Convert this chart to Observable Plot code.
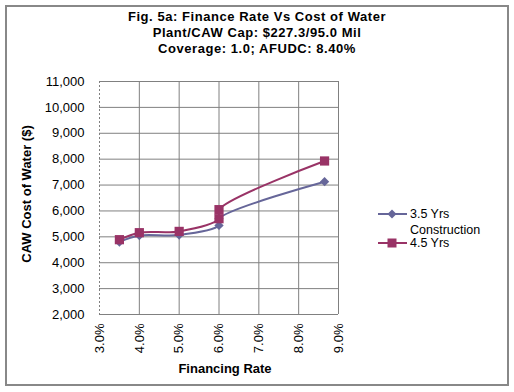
<!DOCTYPE html>
<html>
<head>
<meta charset="utf-8">
<script src="https://cdn.jsdelivr.net/npm/d3@7"></script>
<script src="https://cdn.jsdelivr.net/npm/@observablehq/plot@0.6"></script>
<style>
  html, body { margin: 0; padding: 0; background: #fff; }
  #wrap { position: relative; width: 514px; height: 392px; font-family: "Liberation Sans", Arial, sans-serif; color: #000; overflow: hidden; }
  #frame { position: absolute; left: 5px; top: 5px; width: 500px; height: 377px; border: 2px solid #888; pointer-events: none; }
  #title { height: 66px; box-sizing: border-box; padding-top: 9px; text-align: center; font-weight: bold; font-size: 13px; line-height: 15.8px; letter-spacing: 0.55px; }
  #chart svg { display: block; }
  #legend { position: absolute; left: 378px; top: 206px; font-size: 12.5px; line-height: 16px; }
  .row { position: relative; height: 16px; }
  .row svg { position: absolute; left: 0; top: 2px; }
  .row span { position: absolute; left: 32px; top: 0; white-space: nowrap; }
</style>
</head>
<body>
<div id="wrap">
  <div id="title"></div>
  <div id="chart"></div>
  <div id="legend"></div>
  <div id="frame"></div>
</div>
<script>
// ---- data ----
const titleLines = ["Fig. 5a: Finance Rate Vs Cost of Water", "Plant/CAW Cap: $227.3/95.0 Mil", "Coverage: 1.0; AFUDC: 8.40%"];
const financeRates = [3.5, 4.0, 5.0, 6.0, 6.0, 8.65];        // percent
const cost35 = [4800, 5050, 5070, 5440, 5700, 7130];          // 3.5 Yrs construction
const cost45 = [4890, 5160, 5210, 5700, 6050, 7930];          // 4.5 Yrs construction
const seriesNames = ["3.5 Yrs", "4.5 Yrs"];
const seriesColors = ["#666699", "#993366"];
const legendExtra = "Construction";
const xTicks = [3, 4, 5, 6, 7, 8, 9];
const yTicks = [2000, 3000, 4000, 5000, 6000, 7000, 8000, 9000, 10000, 11000];
const xLabel = "Financing Rate";
const yLabel = "CAW Cost of Water ($)";

// ---- title ----
document.getElementById("title").innerHTML = titleLines.map(t => `<div>${t.replace(/&/g,"&amp;")}</div>`).join("");

const s35 = financeRates.map((r, i) => ({rate: r, cost: cost35[i]}));
const s45 = financeRates.map((r, i) => ({rate: r, cost: cost45[i]}));

const chart = Plot.plot({
  width: 514,
  height: 326,
  marginLeft: 99,
  marginRight: 176,
  marginTop: 15,
  marginBottom: 78,
  style: {fontFamily: '"Liberation Sans", Arial, sans-serif', fontSize: "13px", color: "#000", background: "none", overflow: "visible"},
  x: {domain: [3, 9]},
  y: {domain: [2000, 11000]},
  marks: [
    Plot.gridX(xTicks.slice(1), {stroke: "#808080", strokeOpacity: 1}),
    Plot.gridY(yTicks, {stroke: "#808080", strokeOpacity: 1}),
    Plot.ruleX([xTicks[0]], {stroke: "#808080", strokeDasharray: "2,2"}),
    Plot.line(s35, {x: "rate", y: "cost", stroke: seriesColors[0], strokeWidth: 2, curve: "catmull-rom"}),
    Plot.line(s45, {x: "rate", y: "cost", stroke: seriesColors[1], strokeWidth: 2, curve: "catmull-rom"}),
    Plot.dot(s35, {x: "rate", y: "cost", symbol: "diamond2", r: 4.2, fill: seriesColors[0], stroke: "none"}),
    Plot.dot(s45, {x: "rate", y: "cost", symbol: "square", r: 5.2, fill: seriesColors[1], stroke: "none"}),
    Plot.axisX(xTicks, {tickFormat: d => d.toFixed(1) + "%", tickRotate: -90, tickSize: 0, tickPadding: 9, label: xLabel, labelAnchor: "center", labelArrow: "none", labelOffset: 58}),
    Plot.axisY(yTicks, {tickFormat: d3.format(","), tickSize: 0, tickPadding: 15, label: yLabel, labelAnchor: "center", labelArrow: "none", labelOffset: 78})
  ]
});
chart.querySelectorAll('[aria-label="x-axis label"], [aria-label="y-axis label"]').forEach(g => {
  g.setAttribute("font-weight", "bold");
  g.querySelectorAll("text").forEach(t => { t.textContent = t.textContent.replace(/\s*[→↑←↓]\s*/g, ""); });
});
const xl = chart.querySelector('[aria-label="x-axis label"]');
if (xl) xl.setAttribute("transform", (xl.getAttribute("transform") || "") + " translate(6,0)");
const yl = chart.querySelector('[aria-label="y-axis label"]');
if (yl) yl.setAttribute("transform", (yl.getAttribute("transform") || "") + " translate(0,-4)");
document.getElementById("chart").appendChild(chart);

// ---- legend ----
const markerSvg = (i) => i === 0
  ? `<svg width="30" height="12"><line x1="0" x2="29" y1="6" y2="6" stroke="${seriesColors[0]}" stroke-width="2"/><path d="M14,1.5L18.5,6L14,10.5L9.5,6Z" fill="${seriesColors[0]}"/></svg>`
  : `<svg width="30" height="12"><line x1="0" x2="29" y1="6" y2="6" stroke="${seriesColors[1]}" stroke-width="2"/><rect x="9.5" y="1.5" width="9" height="9" fill="${seriesColors[1]}"/></svg>`;
document.getElementById("legend").innerHTML =
  `<div class="row">${markerSvg(0)}<span>${seriesNames[0]}</span></div>` +
  `<div class="row"><span>${legendExtra}</span></div>` +
  `<div class="row" style="margin-top:-3px">${markerSvg(1)}<span>${seriesNames[1]}</span></div>`;
</script>
</body>
</html>
